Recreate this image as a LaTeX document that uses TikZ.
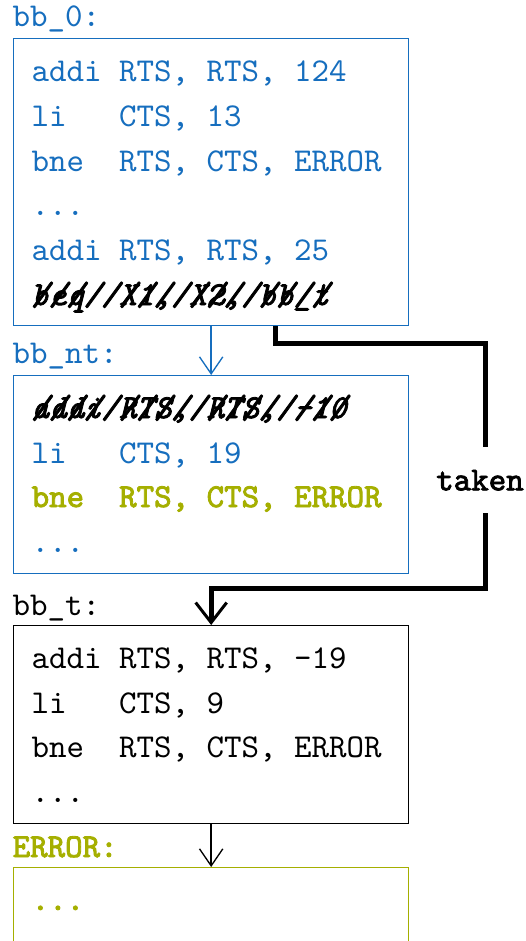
\documentclass[tikz,border=0pt]{standalone}
\usepackage{fontspec}
\usetikzlibrary{arrows.meta,calc}
% heavy typewriter face for emphasised code
\newfontfamily\heavytt{lmmono10-regular}[Extension=.otf, ItalicFont=lmmono10-italic, FakeBold=2.5]
\definecolor{cblue}{RGB}{22,110,190}
\definecolor{colive}{RGB}{165,175,0}
\frenchspacing
% overstrike a piece of text, one slash per character cell
\newcommand\xstrike[1]{%
  \setbox0\hbox{#1}\dimen0=\wd0
  \rlap{\box0}\hbox to \dimen0{\leaders\hbox to .525em{\hss/\hss}\hfill}}
\tikzset{
  blk/.style={draw, line width=0.4pt, minimum width=118.5pt, anchor=north west, inner sep=0pt},
  code/.style={anchor=base west, inner sep=0pt, font=\ttfamily\fontsize{10}{12}\selectfont},
  boldcode/.style={code, font=\heavytt\fontsize{10}{12}\selectfont},
  deadcode/.style={code, font=\heavytt\itshape\fontsize{10}{12}\selectfont},
  flow/.style={line width=0.4pt, -{Straight Barb[length=5.1pt,width=7pt]}},
  takenpath/.style={line width=1.5pt, -{Straight Barb[length=6pt,width=9.3pt,line width=0.9pt]}},
  takenlbl/.style={fill=white, inner xsep=1pt, inner ysep=6.8pt, font=\heavytt\fontsize{10}{12}\selectfont},
}
\begin{document}
\begin{tikzpicture}[x=0.3pt,y=-0.3pt]
\useasboundingbox (0,0) rectangle (526,941);
\clip (0,0) rectangle (526,941);

% basic block bb_0
\node[code, text=cblue] (l0) at (12,26) {bb\_0:};
\node[blk, draw=cblue, minimum height=86.1pt] (b0) at (13,38) {};
\node[code, text=cblue] (b0a) at (31,81)  {addi RTS, RTS, 124};
\node[code, text=cblue] (b0b) at (31,126) {li\ \ \ CTS, 13};
\node[code, text=cblue] (b0c) at (31,171) {bne\ \ RTS, CTS, ERROR};
\node[code, text=cblue] (b0d) at (31,215) {...};
\node[code, text=cblue] (b0e) at (31,260) {addi RTS, RTS, 25};
\node[deadcode] (b0f) at (31,305) {\xstrike{beq\ \ X1, X2, bb\_t}};

% basic block bb_nt
\node[code, text=cblue] (l1) at (12,363) {bb\_nt:};
\node[blk, draw=cblue, minimum height=59.4pt] (b1) at (13,375) {};
\node[deadcode] (b1a) at (31,418) {\xstrike{addi RTS, RTS, -10}};
\node[code, text=cblue] (b1b) at (31,463) {li\ \ \ CTS, 19};
\node[boldcode, text=colive] (b1c) at (31,507) {bne\ \ RTS, CTS, ERROR};
\node[code, text=cblue] (b1d) at (31,552) {...};

% basic block bb_t
\node[code] (l2) at (12,615) {bb\_t:};
\node[blk, draw=black, minimum height=59.4pt] (b2) at (13,625) {};
\node[code] (b2a) at (31,668) {addi RTS, RTS, -19};
\node[code] (b2b) at (31,713) {li\ \ \ CTS, 9};
\node[code] (b2c) at (31,757) {bne\ \ RTS, CTS, ERROR};
\node[code] (b2d) at (31,802) {...};

% error block
\node[boldcode, text=colive] (l3) at (12,857) {ERROR:};
\node[blk, draw=colive, minimum height=59.4pt] (b3) at (13,867) {};
\node[boldcode, text=colive] (b3a) at (31,910) {...};

% fall-through edges
\draw[flow, draw=cblue] (b0.south) -- (b1.north);
\draw[flow] (b2.south) -- (b3.north);

% taken branch
\coordinate (tk0) at ($(b0.south)+(64.5,0)$);
\draw[takenpath] (tk0) |- (485,343) -- node[takenlbl, pos=0.56, xshift=-1.5pt] (tl) {taken} (485,588) -| (b2.north);
\end{tikzpicture}
\end{document}
